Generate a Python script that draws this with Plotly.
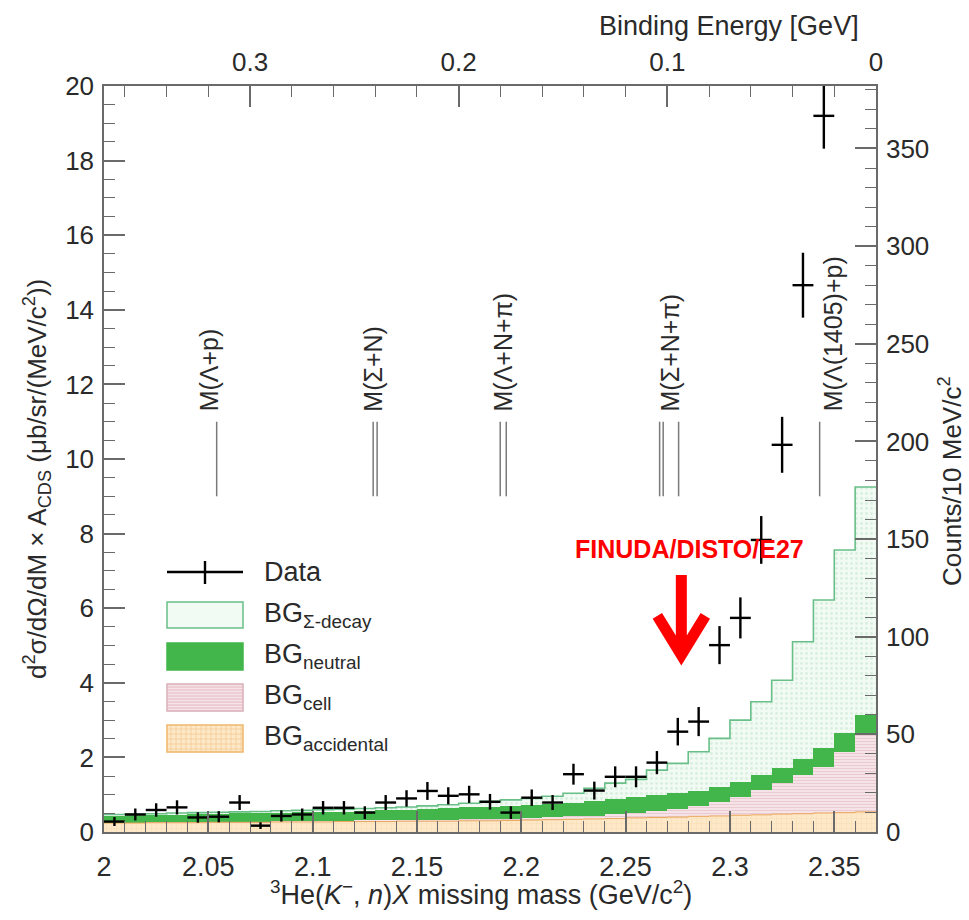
import numpy as np
import plotly.graph_objects as go

# Missing-mass binning (GeV/c^2)
mass_lo = 2.0
mass_hi = 2.37
bin_width = 0.01
n_bins = 37
edges = mass_lo + bin_width * np.arange(n_bins + 1)
centers = edges[:-1] + bin_width / 2

# K-pp threshold: binding energy = threshold - missing mass
kpp_threshold = 2.37
# right axis: counts per 10 MeV/c^2 over the full left range 0..20
counts_top = 382.0

# Data (left-axis units) and errors
data_val = [0.28, 0.47, 0.59, 0.66, 0.39, 0.41, 0.79, 0.17, 0.43, 0.47,
            0.65, 0.65, 0.52, 0.79, 0.90, 1.10, 0.97, 1.01, 0.81, 0.52,
            0.92, 0.79, 1.55, 1.11, 1.48, 1.48, 1.86, 2.69, 2.96, 5.01,
            5.74, 7.83, 10.38, 14.66, 19.20]
data_err = [0.12, 0.16, 0.18, 0.19, 0.14, 0.15, 0.20, 0.09, 0.15, 0.16,
            0.18, 0.18, 0.17, 0.20, 0.22, 0.24, 0.23, 0.23, 0.21, 0.17,
            0.22, 0.20, 0.28, 0.24, 0.28, 0.28, 0.31, 0.37, 0.39, 0.51,
            0.55, 0.64, 0.75, 0.87, 0.88]

# Background components (stacked, bottom to top)
bg_accidental = [0.24, 0.24, 0.25, 0.25, 0.25, 0.26, 0.26, 0.26, 0.27, 0.27,
                 0.27, 0.28, 0.28, 0.28, 0.29, 0.29, 0.29, 0.30, 0.30, 0.31,
                 0.32, 0.33, 0.34, 0.35, 0.36, 0.38, 0.39, 0.40, 0.42, 0.43,
                 0.45, 0.46, 0.48, 0.49, 0.51, 0.52, 0.54]
bg_cell = [0.00, 0.00, 0.01, 0.01, 0.01, 0.01, 0.01, 0.02, 0.02, 0.02,
           0.02, 0.02, 0.03, 0.03, 0.03, 0.03, 0.04, 0.04, 0.05, 0.05,
           0.06, 0.07, 0.08, 0.09, 0.11, 0.13, 0.17, 0.22, 0.28, 0.38,
           0.50, 0.67, 0.83, 1.04, 1.24, 1.63, 2.06]
bg_neutral = [0.21, 0.22, 0.21, 0.22, 0.23, 0.23, 0.24, 0.24, 0.24, 0.25,
              0.26, 0.26, 0.26, 0.28, 0.28, 0.30, 0.31, 0.32, 0.33, 0.34,
              0.34, 0.35, 0.36, 0.38, 0.41, 0.42, 0.42, 0.42, 0.41, 0.40,
              0.40, 0.40, 0.40, 0.42, 0.49, 0.50, 0.54]
bg_sigma = [0.02, 0.02, 0.02, 0.03, 0.03, 0.03, 0.03, 0.03, 0.04, 0.04,
            0.05, 0.05, 0.06, 0.06, 0.07, 0.08, 0.09, 0.11, 0.14, 0.16,
            0.18, 0.21, 0.26, 0.35, 0.43, 0.48, 0.68, 0.80, 1.04, 1.30,
            1.65, 1.96, 2.36, 3.15, 3.98, 4.91, 6.11]

# Reaction thresholds (GeV/c^2): label, line positions, label position
thr_labels = ["M(Λ+p)", "M(Σ+N)", "M(Λ+N+π)", "M(Σ+N+π)", "M(Λ(1405)+p)"]
thr_lines = [[2.0540], [2.1290, 2.1309], [2.1899, 2.1928],
             [2.2663, 2.2680, 2.2754], [2.3430]]
thr_label_x = [2.0505, 2.1290, 2.1910, 2.2715, 2.3495]

# Tick labels
x_tickvals = [2.0, 2.05, 2.1, 2.15, 2.2, 2.25, 2.3, 2.35]
x_ticktext = ["2", "2.05", "2.1", "2.15", "2.2", "2.25", "2.3", "2.35"]
be_tickvals = [0.3, 0.2, 0.1, 0.0]
be_ticktext = ["0.3", "0.2", "0.1", "0"]

FONT = "Liberation Sans, Arial, Helvetica, sans-serif"
TXT = "#2a2a2a"
AX = "#6a6a6a"

C_ACC_BG, C_ACC_FG, C_ACC_LINE = "#fde8c8", "#f2cb96", "#e9a65a"
C_CELL_BG, C_CELL_FG = "#f6e3e7", "#dfadb8"
C_NEU = "#42b64a"
C_SIG_BG, C_SIG_FG, C_SIG_LINE = "#f2faf4", "#bfe3c9", "#68bf87"

fig = go.Figure()

fig.add_trace(go.Bar(x=centers, y=bg_accidental, width=bin_width,
                     marker=dict(color=C_ACC_BG, line=dict(width=0),
                                 pattern=dict(shape="+", fgcolor=C_ACC_FG, bgcolor=C_ACC_BG,
                                              size=5, solidity=0.15)),
                     showlegend=False, hoverinfo="skip"))
fig.add_trace(go.Bar(x=centers, y=bg_cell, width=bin_width,
                     marker=dict(color=C_CELL_BG, line=dict(width=0),
                                 pattern=dict(shape="-", fgcolor=C_CELL_FG, bgcolor=C_CELL_BG,
                                              size=3, solidity=0.3)),
                     showlegend=False, hoverinfo="skip"))
fig.add_trace(go.Bar(x=centers, y=bg_neutral, width=bin_width,
                     marker=dict(color=C_NEU, line=dict(width=0)),
                     showlegend=False, hoverinfo="skip"))
fig.add_trace(go.Bar(x=centers, y=bg_sigma, width=bin_width,
                     marker=dict(color=C_SIG_BG, line=dict(width=0),
                                 pattern=dict(shape=".", fgcolor=C_SIG_FG, bgcolor=C_SIG_BG,
                                              size=5, solidity=0.25)),
                     showlegend=False, hoverinfo="skip"))

# Step outlines of the accidental layer and of the total background
acc_top = np.array(bg_accidental)
total_top = acc_top + np.array(bg_cell) + np.array(bg_neutral) + np.array(bg_sigma)
fig.add_trace(go.Scatter(x=edges, y=np.append(acc_top, acc_top[-1]), mode="lines",
                         line=dict(shape="hv", color=C_ACC_LINE, width=1),
                         showlegend=False, hoverinfo="skip"))
fig.add_trace(go.Scatter(x=edges, y=np.append(total_top, total_top[-1]), mode="lines",
                         line=dict(shape="hv", color=C_SIG_LINE, width=1.6),
                         showlegend=False, hoverinfo="skip"))

# Data points with bin-width horizontal bars
n_data = len(data_val)
fig.add_trace(go.Scatter(x=centers[:n_data], y=data_val, mode="markers",
                         marker=dict(size=1, color="black"),
                         error_x=dict(type="constant", value=bin_width / 2, color="black",
                                      thickness=2.4, width=0),
                         error_y=dict(type="data", array=data_err, color="black",
                                      thickness=2.4, width=0),
                         showlegend=False, hoverinfo="skip"))

# Same data in counts vs binding energy (carries the top/right axes)
fig.add_trace(go.Scatter(x=kpp_threshold - centers[:n_data],
                         y=np.array(data_val) * counts_top / 20.0,
                         xaxis="x2", yaxis="y2", mode="markers",
                         marker=dict(size=1, opacity=0), showlegend=False, hoverinfo="skip"))

shapes = []
annotations = []

# Threshold markers
for lab, lines, lx in zip(thr_labels, thr_lines, thr_label_x):
    for m in lines:
        shapes.append(dict(type="line", xref="x", yref="y", x0=m, x1=m, y0=9.0, y1=11.0,
                           line=dict(color="#7a7a7a", width=1.5)))
    annotations.append(dict(x=lx, y=11.22, xref="x", yref="y", text=lab, textangle=-90,
                            showarrow=False, xanchor="center", yanchor="bottom",
                            font=dict(family=FONT, size=25, color=TXT)))

# FINUDA/DISTO/E27 arrow
annotations.append(dict(x=2.2806, y=7.59, xref="x", yref="y", text="<b>FINUDA/DISTO/E27</b>",
                        showarrow=False, xanchor="center", yanchor="middle",
                        font=dict(family=FONT, size=25, color="#ff0000")))
shapes.append(dict(type="path", xref="x", yref="y", xsizemode="pixel", ysizemode="pixel",
                   xanchor=2.2767, yanchor=4.56,
                   path="M0,8 L0,87 M-24,46 L0,7 L24,46",
                   line=dict(color="#ff0000", width=11)))

# Legend, drawn in paper coordinates
L, R, T, B = 104, 876, 86, 832
W, H = R - L, B - T
def px(x):
    return (x - L) / W
def py(y):
    return (B - y) / H

box_x0, box_x1 = 167, 243
shapes.append(dict(type="line", xref="paper", yref="paper", x0=px(box_x0), x1=px(box_x1),
                   y0=py(572), y1=py(572), line=dict(color="black", width=2.4)))
shapes.append(dict(type="line", xref="paper", yref="paper", x0=px(205), x1=px(205),
                   y0=py(561), y1=py(584), line=dict(color="black", width=2.4)))
rows = [(602, 628, C_SIG_BG, C_SIG_LINE), (643, 670, C_NEU, C_NEU),
        (684, 711, C_CELL_BG, "#d9aeb8"), (725, 752, C_ACC_BG, "#efb56a")]
for (y0, y1, fc, lc) in rows:
    shapes.append(dict(type="rect", xref="paper", yref="paper", x0=px(box_x0), x1=px(box_x1),
                       y0=py(y1), y1=py(y0), fillcolor=fc, line=dict(color=lc, width=1.5)))
# hatching inside the cell and accidental swatches
for yy in range(687, 710, 3):
    shapes.append(dict(type="line", xref="paper", yref="paper", x0=px(box_x0 + 1), x1=px(box_x1 - 1),
                       y0=py(yy), y1=py(yy), line=dict(color=C_CELL_FG, width=0.8)))
for yy in range(729, 751, 5):
    shapes.append(dict(type="line", xref="paper", yref="paper", x0=px(box_x0 + 1), x1=px(box_x1 - 1),
                       y0=py(yy), y1=py(yy), line=dict(color=C_ACC_FG, width=0.8)))
for xx in range(box_x0 + 4, box_x1, 5):
    shapes.append(dict(type="line", xref="paper", yref="paper", x0=px(xx), x1=px(xx),
                       y0=py(751), y1=py(726), line=dict(color=C_ACC_FG, width=0.8)))

leg_texts = [(572, "Data"), (615, "BG<sub>Σ-decay</sub>"), (656, "BG<sub>neutral</sub>"),
             (697, "BG<sub>cell</sub>"), (738, "BG<sub>accidental</sub>")]
for yy, t in leg_texts:
    annotations.append(dict(x=px(262), y=py(yy), xref="paper", yref="paper", text=t,
                            showarrow=False, xanchor="left", yanchor="middle",
                            font=dict(family=FONT, size=27, color=TXT)))

# Axis titles
annotations.append(dict(x=px(37), y=py(479), xref="paper", yref="paper",
                        text="d<sup>2</sup>σ/dΩ/dM × A<sub>CDS</sub> (μb/sr/(MeV/c<sup>2</sup>))",
                        textangle=-90, showarrow=False, xanchor="center", yanchor="middle",
                        font=dict(family=FONT, size=26, color=TXT)))
annotations.append(dict(x=px(950), y=py(481), xref="paper", yref="paper",
                        text="Counts/10 MeV/c<sup>2</sup>", textangle=-90, showarrow=False,
                        xanchor="center", yanchor="middle",
                        font=dict(family=FONT, size=26, color=TXT)))
annotations.append(dict(x=px(481), y=py(893), xref="paper", yref="paper",
                        text="<sup>3</sup>He(<i>K</i><sup>−</sup>, <i>n</i>)<i>X</i> missing mass (GeV/c<sup>2</sup>)",
                        showarrow=False, xanchor="center", yanchor="middle",
                        font=dict(family=FONT, size=27, color=TXT)))
annotations.append(dict(x=px(861), y=py(26), xref="paper", yref="paper",
                        text="Binding Energy [GeV]", showarrow=False,
                        xanchor="right", yanchor="middle",
                        font=dict(family=FONT, size=27, color=TXT)))

axis_common = dict(showgrid=False, zeroline=False, showline=True, linecolor=AX, linewidth=1.5,
                   ticks="inside", tickcolor=AX, tickwidth=1.5, ticklen=21,
                   tickfont=dict(family=FONT, size=26, color=TXT))

fig.update_layout(
    width=969, height=920,
    margin=dict(l=L, r=969 - R, t=T, b=920 - B, pad=0),
    paper_bgcolor="white", plot_bgcolor="white",
    barmode="stack", bargap=0,
    showlegend=False,
    shapes=shapes, annotations=annotations,
    xaxis=dict(range=[mass_lo, mass_hi], tickvals=x_tickvals, ticktext=x_ticktext,
               minor=dict(dtick=bin_width, tick0=mass_lo, ticks="inside", ticklen=11,
                          tickcolor=AX, tickwidth=1.2),
               ticklabelstandoff=10, **{**axis_common, "tickfont": dict(family=FONT, size=27, color=TXT)}),
    yaxis=dict(range=[0, 20], dtick=2, tick0=0,
               minor=dict(dtick=0.5, ticks="inside", ticklen=11, tickcolor=AX, tickwidth=1.2),
               ticklabelstandoff=3, **axis_common),
    xaxis2=dict(range=[kpp_threshold - mass_lo, kpp_threshold - mass_hi], overlaying="x",
                side="top", anchor="y", tickvals=be_tickvals, ticktext=be_ticktext,
                minor=dict(dtick=0.02, tick0=0, ticks="inside", ticklen=11, tickcolor=AX, tickwidth=1.2),
                ticklabelstandoff=3, **axis_common),
    yaxis2=dict(range=[0, counts_top], overlaying="y", side="right", anchor="x",
                dtick=50, tick0=0,
                minor=dict(dtick=10, ticks="inside", ticklen=11, tickcolor=AX, tickwidth=1.2),
                ticklabelstandoff=3, **axis_common),
)

fig.write_html("out.html")
